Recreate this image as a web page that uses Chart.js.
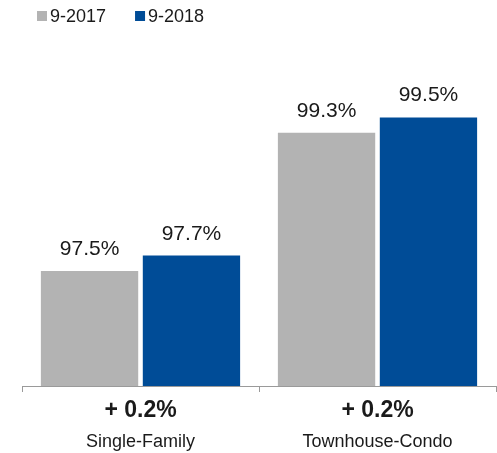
<!DOCTYPE html>
<html>
<head>
<meta charset="utf-8">
<script src="https://cdn.jsdelivr.net/npm/chart.js@4/dist/chart.umd.min.js"></script>
<style>
  html, body { margin: 0; padding: 0; background: #fff; }
  #wrap { width: 497px; height: 453px; }
</style>
</head>
<body>
<div id="wrap"><canvas id="ratioChart" width="497" height="453"></canvas></div>
<script>
// data
var categories = ["Single-Family", "Townhouse-Condo"];
var changeLabels = ["+ 0.2%", "+ 0.2%"];
var seriesNames = ["9-2017", "9-2018"];
var values2017 = [97.5, 99.3];
var values2018 = [97.7, 99.5];

var textColor = '#1a1a1a';
var fontFamily = '"Liberation Sans", Arial, Helvetica, sans-serif';

// legend drawn at the top left, squares + text
var topLegend = {
    id: 'topLegend',
    afterDraw: function(chart) {
        var ctx = chart.ctx;
        var x = 37;
        ctx.save();
        ctx.font = '18px ' + fontFamily;
        ctx.textBaseline = 'alphabetic';
        ctx.textAlign = 'left';
        chart.data.datasets.forEach(function(ds) {
            ctx.fillStyle = ds.backgroundColor;
            ctx.fillRect(x, 11, 10, 10);
            ctx.fillStyle = textColor;
            ctx.fillText(ds.label, x + 13, 21.5);
            x += 13 + ctx.measureText(ds.label).width + 29;
        });
        ctx.restore();
    }
};

// percent labels above each bar
var valueLabels = {
    id: 'valueLabels',
    afterDatasetsDraw: function(chart) {
        var ctx = chart.ctx;
        ctx.save();
        ctx.font = '21px ' + fontFamily;
        ctx.fillStyle = textColor;
        ctx.textAlign = 'center';
        ctx.textBaseline = 'alphabetic';
        chart.data.datasets.forEach(function(ds, i) {
            chart.getDatasetMeta(i).data.forEach(function(bar, j) {
                ctx.fillText(ds.data[j].toFixed(1) + '%', bar.x, bar.y - 16);
            });
        });
        ctx.restore();
    }
};

var ctx = document.getElementById('ratioChart').getContext('2d');
var chart = new Chart(ctx, {
    type: 'bar',
    data: {
        labels: categories,
        datasets: [{
            label: seriesNames[0],
            backgroundColor: '#b3b3b3',
            data: values2017
        }, {
            label: seriesNames[1],
            backgroundColor: '#004c97',
            data: values2018
        }]
    },
    options: {
        responsive: false,
        animation: false,
        layout: {
            padding: { top: 79, left: 22, right: 1, bottom: 0 }
        },
        categoryPercentage: 0.86,
        barPercentage: 0.955,
        plugins: {
            legend: { display: false },
            tooltip: { enabled: false }
        },
        scales: {
            y: {
                display: false,
                min: 96,
                max: 100
            },
            x: {
                position: 'bottom',
                weight: 0,
                labels: changeLabels,
                grid: {
                    display: true,
                    drawOnChartArea: false,
                    offset: true,
                    tickLength: 6,
                    color: '#9a9a9a'
                },
                border: { display: true, color: '#9a9a9a', width: 1 },
                ticks: {
                    color: textColor,
                    padding: 5,
                    maxRotation: 0,
                    font: { family: fontFamily, size: 23, weight: 'bold' }
                },
                afterFit: function(scale) { scale.height = 36; }
            },
            x2: {
                type: 'category',
                position: 'bottom',
                weight: 1,
                labels: categories,
                grid: { display: false, drawTicks: false },
                border: { display: false },
                ticks: {
                    color: textColor,
                    padding: 9,
                    maxRotation: 0,
                    font: { family: fontFamily, size: 18 }
                },
                afterFit: function(scale) { scale.height = 31; }
            }
        }
    },
    plugins: [topLegend, valueLabels]
});
</script>
</body>
</html>
